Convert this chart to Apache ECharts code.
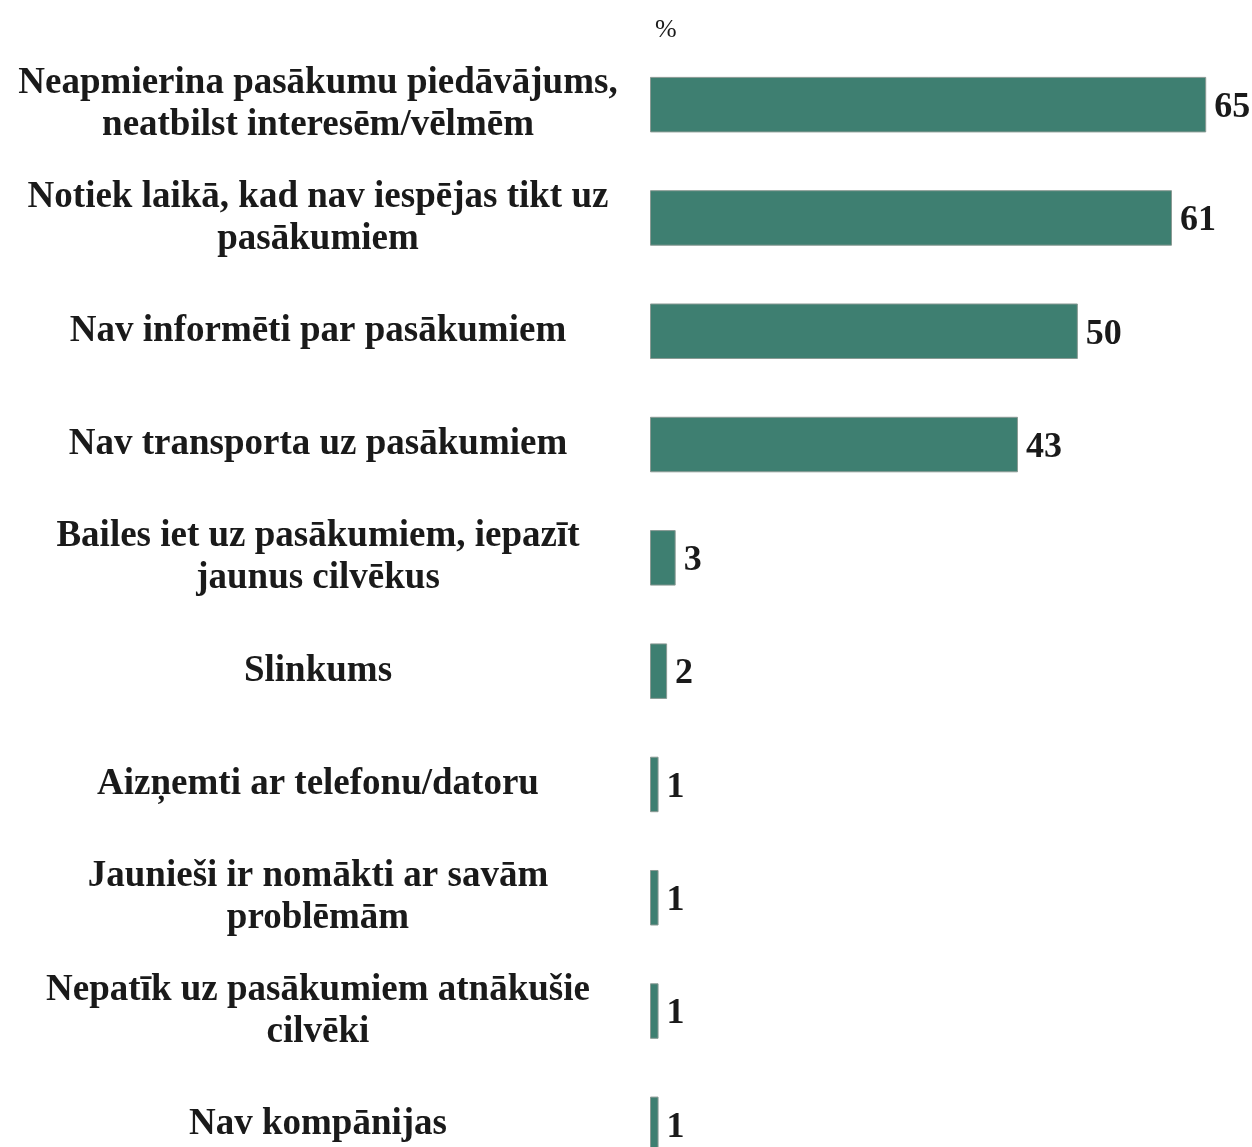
<!DOCTYPE html>
<html>
<head>
<meta charset="utf-8">
<script src="https://cdn.jsdelivr.net/npm/echarts@6/dist/echarts.min.js"></script>
<style>
  html, body { margin: 0; padding: 0; background: #fff; overflow: hidden; }
  /* pēdējais stabiņš attēlā ir apgriezts, tāpēc konteiners ir augstāks par logu */
  #chart { width: 1252px; height: 1181px; }
</style>
</head>
<body>
<div id="chart"></div>
<script>
  // kategorijas (augšā -> lejā)
  var categories = [
    'Neapmierina pasākumu piedāvājums,\nneatbilst interesēm/vēlmēm',
    'Notiek laikā, kad nav iespējas tikt uz\npasākumiem',
    'Nav informēti par pasākumiem',
    'Nav transporta uz pasākumiem',
    'Bailes iet uz pasākumiem, iepazīt\njaunus cilvēkus',
    'Slinkums',
    'Aizņemti ar telefonu/datoru',
    'Jaunieši ir nomākti ar savām\nproblēmām',
    'Nepatīk uz pasākumiem atnākušie\ncilvēki',
    'Nav kompānijas'
  ];
  var values = [65, 61, 50, 43, 3, 2, 1, 1, 1, 1];
  var unitLabel = '%';

  var font = '"Liberation Serif", "Times New Roman", serif';

  var chart = echarts.init(document.getElementById('chart'));
  chart.setOption({
    animation: false,
    backgroundColor: '#fff',
    title: {
      text: unitLabel,
      left: 650,
      top: 12,
      textStyle: { fontFamily: font, fontSize: 26, fontWeight: 'normal', color: '#1a1a1a' }
    },
    grid: { left: 650, top: 48, bottom: 0, right: 3, containLabel: false },
    xAxis: {
      type: 'value',
      min: 0,
      max: 70,
      show: false
    },
    yAxis: {
      type: 'category',
      inverse: true,
      data: categories,
      axisLine: { show: false },
      axisTick: { show: false },
      axisLabel: {
        margin: 332,
        align: 'center',
        fontFamily: font,
        fontSize: 37,
        fontWeight: 'bold',
        lineHeight: 42,
        padding: [14, 0, 0, 0],
        color: '#1a1a1a'
      }
    },
    series: [{
      type: 'bar',
      data: values,
      barWidth: '49%',
      itemStyle: { color: '#3e7f71', borderColor: '#8a9a94', borderWidth: 1 },
      label: {
        show: true,
        position: 'right',
        distance: 8,
        offset: [0, 3],
        fontFamily: font,
        fontSize: 36,
        fontWeight: 'bold',
        color: '#1a1a1a'
      }
    }]
  });
</script>
</body>
</html>
